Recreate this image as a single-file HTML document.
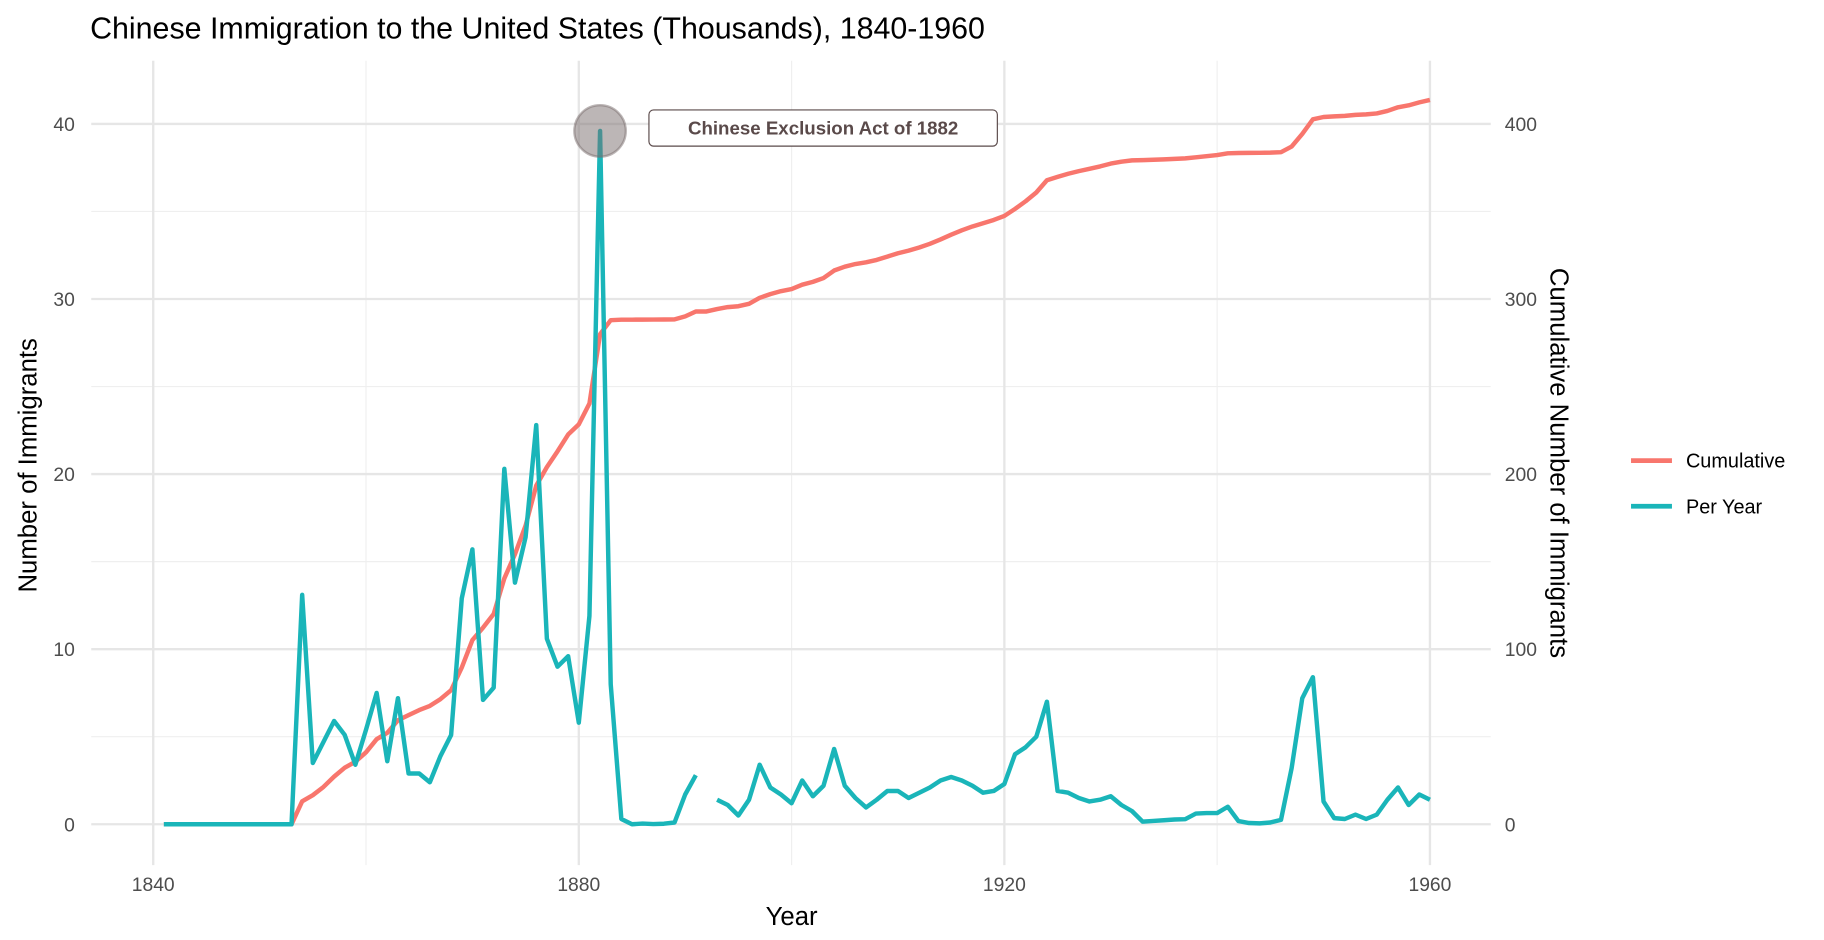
<!DOCTYPE html>
<html><head><meta charset="utf-8"><style>
html,body{margin:0;padding:0;background:#fff;}
svg{display:block;font-family:"Liberation Sans",Arial,sans-serif;}
</style></head><body>
<svg id="chart" width="1824" height="940" viewBox="0 0 1560 804">
<g id="grid"></g>
<g id="axes"></g>
<g id="series"></g>
<text x="77" y="33" font-size="26" fill="#000">Chinese Immigration to the United States (Thousands), 1840-1960</text>
<text x="677" y="791" font-size="22" text-anchor="middle">Year</text>
<text transform="translate(31,398) rotate(-90)" font-size="22" text-anchor="middle">Number of Immigrants</text>
<text transform="translate(1326,396) rotate(90)" font-size="22" text-anchor="middle">Cumulative Number of Immigrants</text>
<g>
<line x1="1395" y1="394" x2="1430" y2="394" stroke="#F8766D" stroke-width="4"/>
<text x="1442" y="400" font-size="17">Cumulative</text>
<line x1="1395" y1="433" x2="1430" y2="433" stroke="#1ab5b9" stroke-width="4"/>
<text x="1442" y="439" font-size="17">Per Year</text>
</g>
<g id="annot">
<rect x="555" y="94" width="298" height="31" rx="4" fill="#fff" stroke="#5a4a4a" stroke-width="1"/>
<text x="704" y="115" font-size="16" font-weight="bold" fill="#5a4a4a" text-anchor="middle">Chinese Exclusion Act of 1882</text>
</g>
</svg>
<script>
const years = [];
for (let y = 1841; y <= 1960; y++) years.push(y);
const perYear = [0,0,0,0,0,0,0,0,0,0,0,0,0,13.1,3.5,4.7,5.9,5.1,3.4,5.4,7.5,3.6,7.2,2.9,2.9,2.4,3.9,5.1,12.9,15.7,7.1,7.8,20.3,13.8,16.4,22.8,10.6,9.0,9.6,5.8,11.9,39.6,8.0,0.3,0.0,0.04,0.01,0.03,0.1,1.7,2.8,null,1.4,1.1,0.5,1.4,3.4,2.1,1.7,1.2,2.5,1.6,2.2,4.3,2.2,1.5,0.96,1.4,1.9,1.9,1.5,1.8,2.1,2.5,2.7,2.5,2.2,1.8,1.9,2.3,4.0,4.4,5.0,7.0,1.9,1.8,1.5,1.3,1.4,1.6,1.1,0.75,0.15,0.19,0.23,0.27,0.29,0.61,0.64,0.64,1.0,0.18,0.07,0.05,0.1,0.25,3.2,7.2,8.4,1.3,0.35,0.3,0.55,0.3,0.55,1.4,2.1,1.1,1.7,1.4];
const xTicks = [1840,1880,1920,1960];
const yTicks = [0,10,20,30,40];
const y2Ticks = [0,100,200,300,400];
const annotYear = 1882;
const NS='http://www.w3.org/2000/svg';
const xS = v => 131 + (v-1840)*9.1;
const yS = v => 705 - v*14.975;
const y2S = v => yS(v/10);
const grid=document.getElementById('grid'), axes=document.getElementById('axes'), series=document.getElementById('series');
function mk(tag,attrs,parent){const e=document.createElementNS(NS,tag);for(const k in attrs)e.setAttribute(k,attrs[k]);parent.appendChild(e);return e;}
for(let i=0;i<xTicks.length-1;i++){const xm=xS((xTicks[i]+xTicks[i+1])/2);const l=mk('line',{x1:xm,x2:xm,y1:52,y2:740,stroke:'#efefef','stroke-width':1},grid);

}
for(let i=0;i<yTicks.length;i++){const v=yTicks[i]+5;if(yS(v)<52)continue;const l=mk('line',{x1:78,x2:1275,y1:yS(v),y2:yS(v),stroke:'#efefef','stroke-width':1},grid);

}
xTicks.forEach(t=>{const l=mk('line',{x1:xS(t),x2:xS(t),y1:52,y2:740,stroke:'#e6e6e6','stroke-width':2},grid);


const tx=mk('text',{x:xS(t),y:762,'font-size':16.5,fill:'#4d4d4d','text-anchor':'middle'},axes);tx.textContent=t;

});
yTicks.forEach(t=>{const l=mk('line',{x1:78,x2:1275,y1:yS(t),y2:yS(t),stroke:'#e6e6e6','stroke-width':2},grid);


const tx=mk('text',{x:64,y:yS(t)+6,'font-size':16.5,fill:'#4d4d4d','text-anchor':'end'},axes);tx.textContent=t;

});
y2Ticks.forEach(t=>{const tx=mk('text',{x:1287,y:y2S(t)+6,'font-size':16.5,fill:'#4d4d4d'},axes);tx.textContent=t;

});
let c=0;const cum=perYear.map(v=>{c+=(v||0);return c;});
const cp=mk('path',{d:'M'+years.map((y,i)=>xS(y)+','+y2S(cum[i])).join('L'),fill:'none',stroke:'#F8766D','stroke-width':3.8,'stroke-linejoin':'round'},series);


let d='',pen=false;
years.forEach((y,i)=>{const v=perYear[i];if(v==null){pen=false;return;}d+=(pen?'L':'M')+xS(y)+','+yS(v);pen=true;});
const pp=mk('path',{d:d,fill:'none',stroke:'#1ab5b9','stroke-width':3.8,'stroke-linejoin':'round'},series);


const ai=years.indexOf(annotYear);
const circ=mk('circle',{cx:xS(annotYear),cy:yS(perYear[ai]),r:22,fill:'#7a6e6e','fill-opacity':0.5,stroke:'#7a6e6e','stroke-opacity':0.5,'stroke-width':2},series);


</script>
</body></html>
